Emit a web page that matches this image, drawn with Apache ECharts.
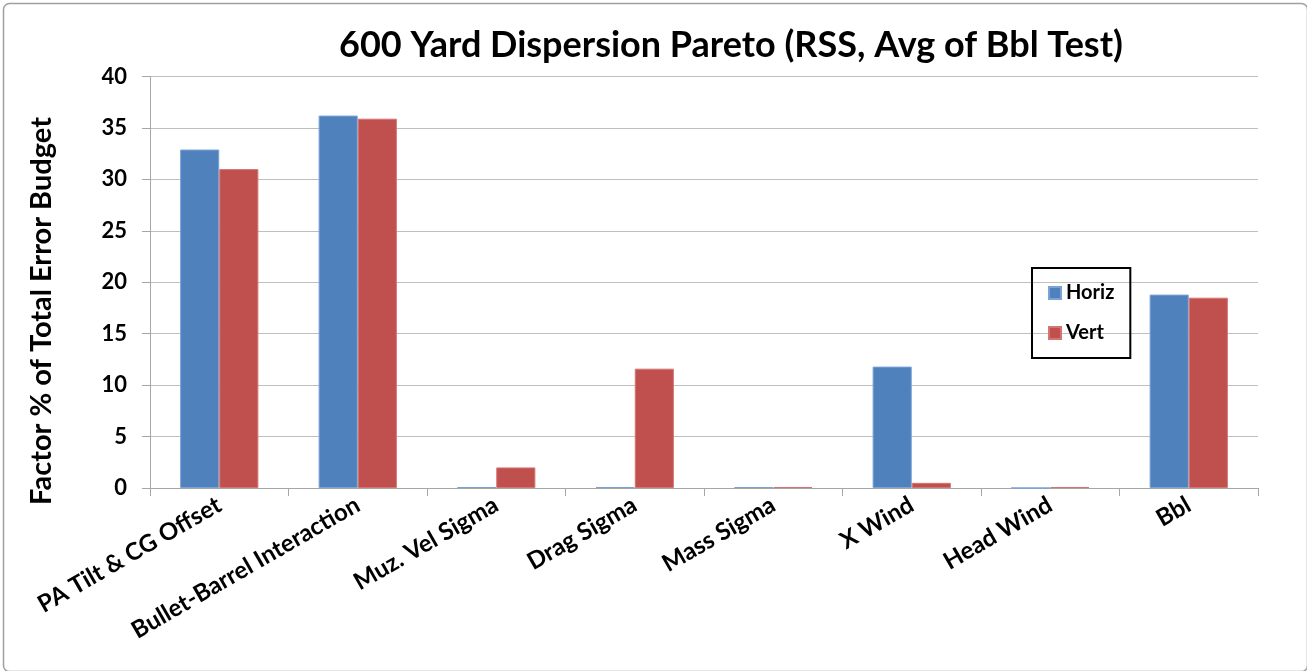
<!DOCTYPE html>
<html>
<head>
<meta charset="utf-8">
<style>
  html, body { margin: 0; padding: 0; background: #fff; }
  #chart { width: 1307px; height: 671px; }
</style>
<script src="https://cdn.jsdelivr.net/npm/echarts@6/dist/echarts.min.js"></script>
</head>
<body>
<div id="chart"></div>
<script>
// Error budget contributors (600 yd dispersion)
const categories = [
  'PA Tilt & CG Offset', 'Bullet-Barrel Interaction', 'Muz. Vel Sigma', 'Drag Sigma',
  'Mass Sigma', 'X Wind', 'Head Wind', 'Bbl'
];
const horizValues = [32.9, 36.2, 0.1, 0.1, 0.1, 11.8, 0.0, 18.8];
const vertValues  = [31.0, 35.9, 2.0, 11.6, 0.1, 0.5, 0.1, 18.5];
const yTicks = { min: 0, max: 40, interval: 5 };

const FONT = 'Lato, "Open Sans", sans-serif';
const chart = echarts.init(document.getElementById('chart'), null, { renderer: 'canvas' });

chart.setOption({
  animation: false,
  backgroundColor: '#ffffff',
  title: {
    text: '600 Yard Dispersion Pareto (RSS, Avg of Bbl Test)',
    left: 726,
    top: 22,
    textAlign: 'center',
    textStyle: { fontFamily: FONT, fontWeight: 'bold', fontSize: 36, color: '#000' }
  },
  legend: {
    orient: 'vertical',
    left: 1032,
    top: 268,
    width: 103,
    padding: [15, 16, 15, 16],
    borderColor: '#000',
    borderWidth: 2,
    itemWidth: 12,
    itemHeight: 12,
    itemGap: 20,
    icon: 'rect',
    textStyle: { fontFamily: FONT, fontWeight: 'bold', fontSize: 20, color: '#000' },
    data: ['Horiz', 'Vert']
  },
  grid: { left: 150, right: 49, top: 76.5, bottom: 183, containLabel: false },
  xAxis: {
    type: 'category',
    data: categories,
    axisLine: { lineStyle: { color: '#a6a6a6', width: 1 } },
    axisTick: { show: true, length: 8, alignWithLabel: false, lineStyle: { color: '#a6a6a6' } },
    axisLabel: {
      interval: 0,
      rotate: 30,
      margin: 15,
      fontFamily: FONT,
      fontWeight: 'bold',
      fontSize: 24,
      color: '#000'
    }
  },
  yAxis: {
    type: 'value',
    min: yTicks.min,
    max: yTicks.max,
    interval: yTicks.interval,
    axisLine: { show: true, lineStyle: { color: '#a6a6a6', width: 1 } },
    axisTick: { show: true, length: 8, lineStyle: { color: '#a6a6a6' } },
    splitLine: { lineStyle: { color: '#bfbfbf', width: 1 } },
    axisLabel: {
      margin: 23,
      fontFamily: FONT,
      fontWeight: 'bold',
      fontSize: 22,
      color: '#000'
    }
  },
  series: [
    {
      name: 'Horiz',
      type: 'bar',
      data: horizValues,
      barGap: '0%',
      barCategoryGap: '43.5%',
      itemStyle: { color: '#4F81BD', borderColor: '#7aa3d6', borderWidth: 1 }
    },
    {
      name: 'Vert',
      type: 'bar',
      data: vertValues,
      barGap: '0%',
      barCategoryGap: '43.5%',
      itemStyle: { color: '#C0504D', borderColor: '#d47572', borderWidth: 1 }
    }
  ],
  graphic: [
    {
      type: 'rect',
      left: 1,
      top: 1,
      shape: { width: 1304, height: 668, r: 6 },
      style: { fill: 'none', stroke: '#a0a0a0', lineWidth: 1.5 },
      silent: true
    },
    {
      type: 'text',
      x: 42,
      y: 311,
      rotation: Math.PI / 2,
      style: {
        text: 'Factor % of Total Error Budget',
        fontFamily: FONT,
        fontWeight: 'bold',
        fontSize: 29,
        fill: '#000',
        align: 'center',
        verticalAlign: 'middle'
      }
    }
  ]
});
</script>
</body>
</html>
